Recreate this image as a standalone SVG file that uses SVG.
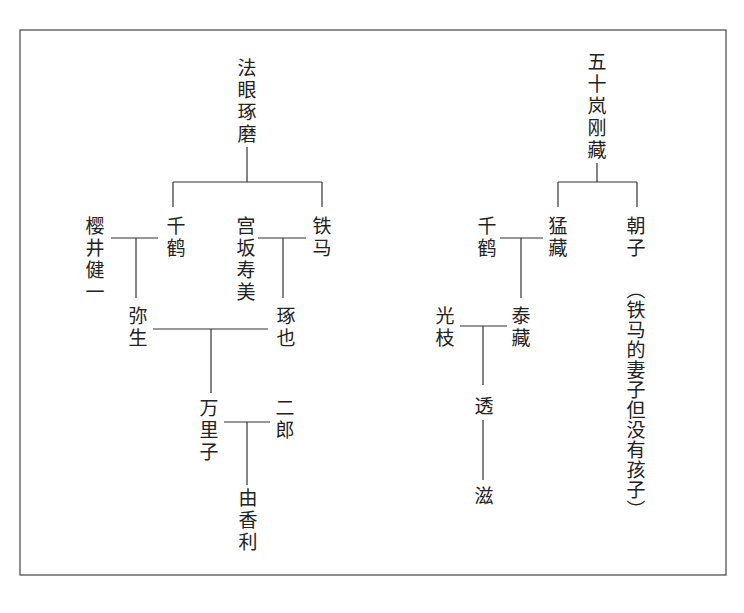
<svg xmlns="http://www.w3.org/2000/svg" width="744" height="613" viewBox="0 0 744 613">
<style>
text{font-family:"Noto Sans CJK SC",sans-serif;font-size:19px;fill:#222;writing-mode:vertical-rl;letter-spacing:3px}
.c line{stroke:#333;stroke-width:1.2}
</style>
<rect width="744" height="613" fill="#fff"/>
<rect x="20" y="30" width="706" height="545" fill="none" stroke="#444" stroke-width="1.2"/>
<g class="c">
<line x1="247" y1="147" x2="247" y2="182"/><line x1="173" y1="182" x2="322" y2="182"/>
<line x1="173" y1="182" x2="173" y2="207"/><line x1="322" y1="182" x2="322" y2="207"/>
<line x1="111" y1="238" x2="158" y2="238"/><line x1="136" y1="238" x2="136" y2="298"/>
<line x1="258" y1="238" x2="306" y2="238"/><line x1="283" y1="238" x2="283" y2="298"/>
<line x1="153" y1="329" x2="268" y2="329"/><line x1="211" y1="329" x2="211" y2="393"/>
<line x1="224" y1="422" x2="270" y2="422"/><line x1="247" y1="422" x2="247" y2="485"/>
<line x1="597" y1="163" x2="597" y2="182"/><line x1="558" y1="182" x2="637" y2="182"/>
<line x1="558" y1="182" x2="558" y2="207"/><line x1="637" y1="182" x2="637" y2="207"/>
<line x1="500" y1="238" x2="543" y2="238"/><line x1="521" y1="238" x2="521" y2="298"/>
<line x1="460" y1="326" x2="507" y2="326"/><line x1="483" y1="326" x2="483" y2="385"/>
<line x1="483" y1="420" x2="483" y2="480"/>
</g>
<g id="fayan"><text x="247" y="58">法眼琢磨</text></g>
<g id="qianhe1"><text x="176" y="216">千鹤</text></g>
<g id="tiema"><text x="322" y="216">铁马</text></g>
<g id="yingjing"><text x="95" y="216">樱井健一</text></g>
<g id="gongban"><text x="246" y="216">宫坂寿美</text></g>
<g id="misheng"><text x="138" y="306">弥生</text></g>
<g id="zhuoye"><text x="286" y="306">琢也</text></g>
<g id="wanlizi"><text x="209" y="398">万里子</text></g>
<g id="erlang"><text x="285" y="398">二郎</text></g>
<g id="youxiangli"><text x="248" y="488">由香利</text></g>
<g id="wushilan"><text x="597" y="52">五十岚刚藏</text></g>
<g id="mengzang"><text x="558" y="216">猛藏</text></g>
<g id="chaozi"><text x="636" y="216">朝子</text></g>
<g id="note"><text x="636" y="280" style="letter-spacing:1px">（铁马的妻子但没有孩子）</text></g>
<g id="qianhe2"><text x="487" y="216">千鹤</text></g>
<g id="taizang"><text x="521" y="306">泰藏</text></g>
<g id="guangzhi"><text x="445" y="306">光枝</text></g>
<g id="tou"><text x="484" y="396">透</text></g>
<g id="zi"><text x="484" y="486">滋</text></g>
</svg>
